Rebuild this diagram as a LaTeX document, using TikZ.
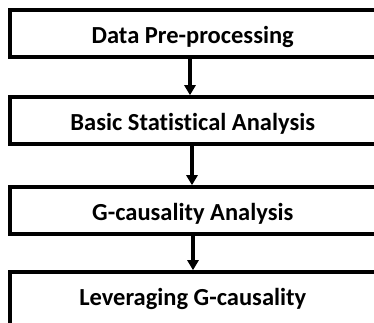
\documentclass[tikz,border=0pt]{standalone}
\usepackage{fontspec}
\setmainfont{Carlito}[Ligatures=NoCommon]
\usetikzlibrary{arrows.meta}
\tikzset{
  stufe/.style={draw, line width=3.6pt, fill=white, minimum width=365.5pt,
    inner xsep=0pt, inner ysep=0pt, text height=33pt, text depth=14pt,
    font=\bfseries\fontsize{24.5}{28}\selectfont},
  pfeil/.style={line width=3.2pt, -{Triangle[width=11pt,length=10pt]}}
}

\begin{document}
\begin{tikzpicture}[x=1pt,y=1pt]
  \clip (0,0) rectangle (374,-322);
  % Kästen
  \node[stufe] (prep) at (192.75,-33.5) {Data Pre-processing};
  \node[stufe] (stat) at (192.75,-120.5) {Basic Statistical Analysis};
  \node[stufe] (gca) at (192.75,-210.5) {G-causality Analysis};
  \node[stufe, text depth=40pt] (lev) at (192.75,-308.5) {Leveraging G-causality};
  % Pfeile
  \draw[pfeil] ([xshift=-2.75pt]prep.south) -- ([xshift=-2.75pt]stat.north);
  \draw[pfeil] ([xshift=-0.75pt]stat.south) -- ([xshift=-0.75pt]gca.north);
  \draw[pfeil] ([xshift=0.25pt]gca.south) -- ([xshift=0.25pt]lev.north);
\end{tikzpicture}
\end{document}
